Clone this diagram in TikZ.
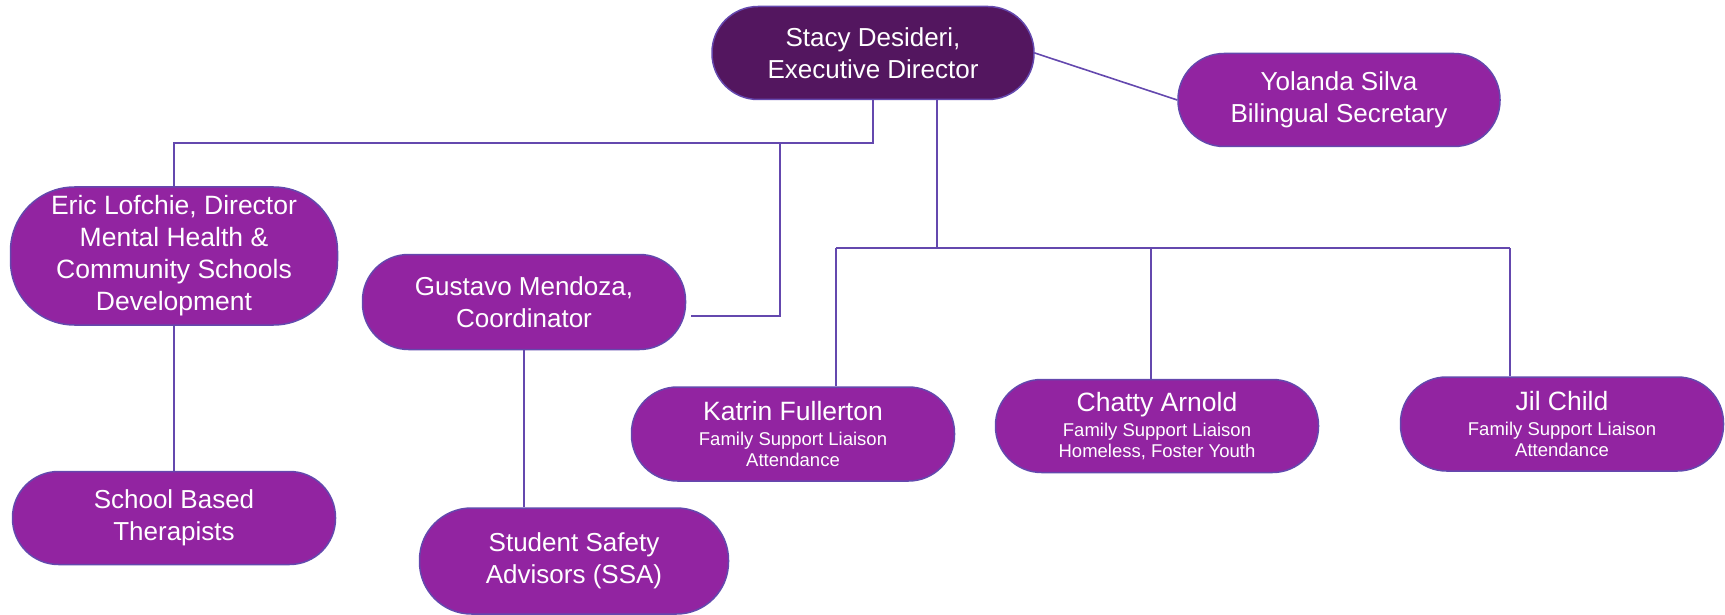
\documentclass[tikz,border=0pt]{standalone}
\usepackage{fontspec}
\setmainfont{Liberation Sans}

\definecolor{boxpurple}{HTML}{9224A1}
\definecolor{toppurple}{HTML}{53165F}
\definecolor{linkblue}{HTML}{6448AE}

\tikzset{
	person/.style={draw=linkblue, line width=1.5pt, fill=boxpurple, text=white, align=center,
		rounded corners=46pt, minimum width=323pt, minimum height=93pt, inner sep=0pt,
		font=\fontsize{26}{32}\selectfont},
	liaison/.style={person, font=\fontsize{18.5}{21}\selectfont},
	link/.style={draw=linkblue, line width=1.6pt},
}

\begin{document}
\begin{tikzpicture}[x=1pt, y=-1pt]
		\useasboundingbox (0,0) rectangle (1725,615);

		% boxes
		\node[person, fill=toppurple, minimum width=322pt] (stacy) at (873,53) {Stacy Desideri,\\Executive Director};
		\node[person, minimum width=322pt] (yolanda) at (1339,100) {Yolanda Silva\\Bilingual Secretary};
		\node[person, minimum width=327pt, minimum height=138pt, rounded corners=64pt, font=\fontsize{26.5}{32}\selectfont] (eric) at (174,256) {Eric Lofchie, Director\\Mental Health \&\\Community Schools\\Development};
		\node[person, minimum height=95pt] (gustavo) at (524,302) {Gustavo Mendoza,\\Coordinator};
		\node[person] (school) at (174,518) {School Based\\Therapists};
		\node[person, minimum width=309pt, minimum height=106pt, rounded corners=52pt] (ssa) at (574,561) {Student Safety\\Advisors (SSA)};
		\node[liaison, minimum height=94pt] (katrin) at (793,434) {{\fontsize{26.5}{28}\selectfont Katrin Fullerton}\\[4pt]Family Support Liaison\\Attendance};
		\node[liaison] (chatty) at (1157,426) {{\fontsize{26.5}{28}\selectfont Chatty Arnold}\\[4pt]Family Support Liaison\\Homeless, Foster Youth};
		\node[liaison, minimum height=94pt] (jil) at (1562,424) {{\fontsize{26.5}{28}\selectfont Jil Child}\\[4pt]Family Support Liaison\\Attendance};

		% connectors
		\coordinate (mainbus) at (0,143);
		\coordinate (gustavotap) at (780,143);
		\coordinate (liaisontap) at (937,248);
		\coordinate (katrintap) at (836,248);
		\coordinate (chattytap) at (1151,248);
		\coordinate (jiltap) at (1510,248);

		\draw[link] (stacy.east) -- (yolanda.west);
		\draw[link] (stacy.south) -- (stacy.south |- mainbus) -| (eric.north);
		\draw[link] (gustavotap) |- ([shift={(5,14)}]gustavo.east);
		\draw[link] (liaisontap |- stacy.south) -- (liaisontap);
		\draw[link] (katrintap) -- (jiltap);
		\draw[link] (katrintap) -- (katrintap |- katrin.north);
		\draw[link] (chattytap) -- (chattytap |- chatty.north);
		\draw[link] (jiltap) -- (jiltap |- jil.north);
		\draw[link] (eric.south) -- (school.north);
		\draw[link] (gustavo.south) -- (gustavo.south |- ssa.north);
	\end{tikzpicture}
\end{document}
